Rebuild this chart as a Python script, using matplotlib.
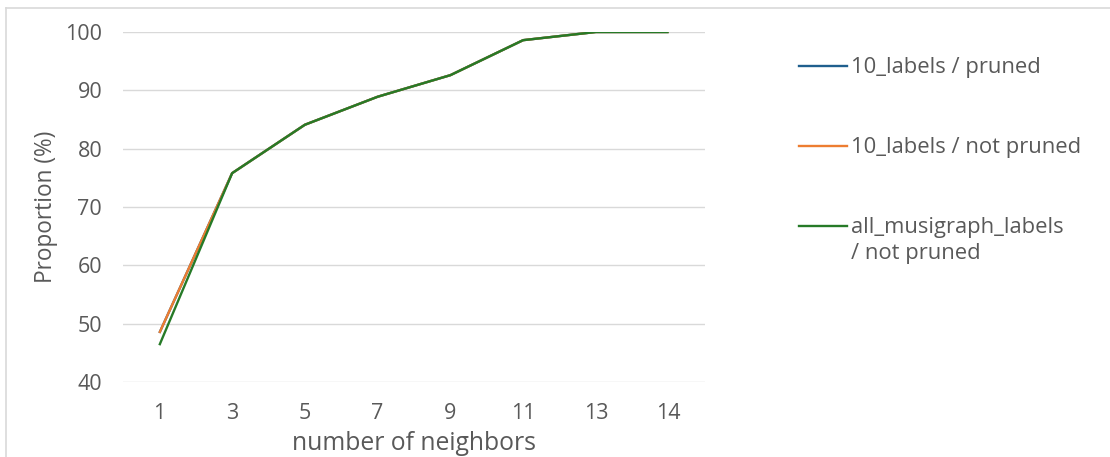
import matplotlib.pyplot as plt
from matplotlib.lines import Line2D

plt.rcParams['font.family'] = ['Open Sans', 'DejaVu Sans']

# share of queries (%) against k
neighbors = ['1', '3', '5', '7', '9', '11', '13', '14']
pruned_10 = [48.4, 75.8, 84.1, 88.9, 92.6, 98.6, 100, 100]
not_pruned_10 = [48.4, 75.8, 84.1, 88.9, 92.6, 98.6, 100, 100]
all_not_pruned = [46.3, 75.8, 84.1, 88.9, 92.6, 98.6, 100, 100]

series_names = ['10_labels / pruned', '10_labels / not pruned',
                'all_musigraph_labels\n/ not pruned']
colors = ['#1f5f8e', '#ed7d31', '#267a27']

W, H = 1110, 457
fig = plt.figure(figsize=(W / 100, H / 100), dpi=100)
ax = fig.add_axes([123 / W, 1 - 382 / H, (705 - 123) / W, (382 - 32) / H])

x = range(len(neighbors))
for vals, c in zip([pruned_10, not_pruned_10, all_not_pruned], colors):
    ax.plot(x, vals, color=c, lw=1.7, solid_capstyle='butt')

ax.set_xlim(-0.5, len(neighbors) - 0.5)
ax.set_ylim(40, 100)
ax.set_yticks(range(40, 101, 10))
ax.set_xticks(list(x))
ax.set_xticklabels(neighbors)
ax.grid(axis='y', color='#d9d9d9', lw=1)
ax.set_axisbelow(True)
for s in ax.spines.values():
    s.set_visible(False)
ax.tick_params(length=0, labelsize=15.5, colors='#595959', pad=15)
ax.set_xlabel('number of neighbors', fontsize=17.8, color='#595959', labelpad=5)
ax.set_ylabel('Proportion (%)', fontsize=16.3, color='#595959', labelpad=5)

# legend on the right, drawn by hand so the handle sits on the first text line
for i, (name, c) in enumerate(zip(series_names, colors)):
    yy = 66 + 80 * i
    fig.add_artist(Line2D([799 / W, 847 / W], [1 - yy / H, 1 - yy / H],
                          color=c, lw=1.7, transform=fig.transFigure))
    for j, line in enumerate(name.split('\n')):
        fig.text(851 / W, 1 - (yy + 7 + 26 * j) / H, line, fontsize=15.8,
                 color='#595959', va='baseline', ha='left')

# chart frame
fig.add_artist(Line2D([6 / W, 1], [1 - 8 / H, 1 - 8 / H], color='#d9d9d9', lw=1.2))
fig.add_artist(Line2D([6 / W, 6 / W], [0, 1 - 8 / H], color='#d9d9d9', lw=1.2))

fig.savefig('out.png', dpi=100)
